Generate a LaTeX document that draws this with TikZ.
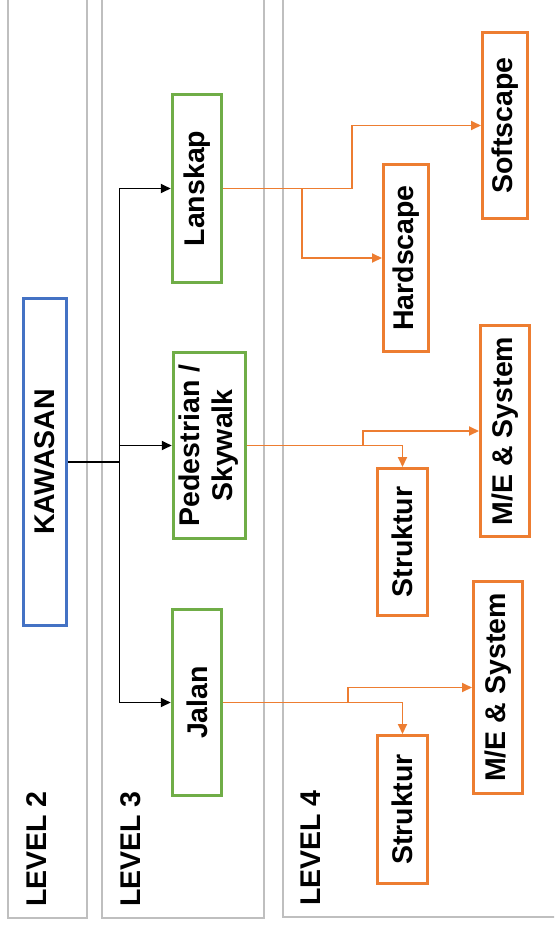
\documentclass[tikz,border=0pt]{standalone}
\usepackage{fontspec}
\setmainfont{Liberation Sans}
\usetikzlibrary{arrows.meta}
\definecolor{oorange}{HTML}{ED7D31}
\definecolor{ggreen}{HTML}{70AD47}
\definecolor{bblue}{HTML}{4472C4}
\definecolor{pgray}{HTML}{BFBFBF}
\tikzset{
  panel/.style={draw=pgray, line width=1.5pt},
  bx/.style={draw, line width=3pt, inner sep=0pt, fill=white, align=center},
  lvl/.style={inner sep=0pt, rotate=90},
  conn/.style={draw=black, line width=1.8pt},
  carrow/.style={conn, -{Triangle[length=10pt,width=9pt]}},
  oarrow/.style={draw=oorange, line width=1.9pt, -{Triangle[length=10pt,width=9pt]}},
}
\begin{document}
\begin{tikzpicture}[x=1pt,y=-1pt, font=\fontsize{28.5}{34}\selectfont\bfseries]
\useasboundingbox (0,0) rectangle (554,926);
\clip (0,0) rectangle (554,926);
% panels
\draw[panel] (8,-10) rectangle (87,918);
\draw[panel] (102,-10) rectangle (264,918);
\draw[panel] (283,-10) rectangle (570,917);
\node[lvl] (L2) at (37,849) {LEVEL 2};
\node[lvl] (L3) at (131,849) {LEVEL 3};
\node[lvl] (L4) at (311,848) {LEVEL 4};
% level 2
\node[bx, draw=bblue, minimum width=43pt, minimum height=327pt] (K) at (45,462) {\rotatebox{90}{KAWASAN}};
% level 3
\node[bx, draw=ggreen, minimum width=49.5pt, minimum height=188pt] (Lan) at (197,188.5) {\rotatebox{90}{Lanskap}};
\node[bx, draw=ggreen, minimum width=72.5pt, minimum height=186.5pt] (Ped) at (209.5,445.5) {\rotatebox{90}{\begin{tabular}{@{}c@{}}Pedestrian /\\[-1pt]Skywalk\end{tabular}}};
\node[bx, draw=ggreen, minimum width=49.5pt, minimum height=186.5pt] (Jal) at (197,702.5) {\rotatebox{90}{Jalan}};
% level 4
\node[bx, draw=oorange, minimum width=45pt, minimum height=186pt] (Soft) at (505,125.5) {\rotatebox{90}{Softscape}};
\node[bx, draw=oorange, minimum width=45pt, minimum height=187pt] (Hard) at (406,258) {\rotatebox{90}{Hardscape}};
\node[bx, draw=oorange, minimum width=49pt, minimum height=211pt] (ME1) at (505,431) {\rotatebox{90}{M/E \& System}};
\node[bx, draw=oorange, minimum width=50pt, minimum height=147pt] (St1) at (402.5,542) {\rotatebox{90}{Struktur}};
\node[bx, draw=oorange, minimum width=49pt, minimum height=212pt] (ME2) at (498,687.5) {\rotatebox{90}{M/E \& System}};
\node[bx, draw=oorange, minimum width=50pt, minimum height=148pt] (St2) at (402.5,809.5) {\rotatebox{90}{Struktur}};
% black connectors
\coordinate (bus) at (119.5,462);
\draw[conn] (K.east) -- (bus);
\draw[carrow] (bus) |- (Lan.west);
\draw[carrow] (bus) -- (bus |- Ped.west) -- (Ped.west);
\draw[carrow] (bus) |- (Jal.west);
% orange connectors
\coordinate (ls1) at (302,188.5);
\coordinate (ls2) at (352,188.5);
\draw[oarrow] (Lan.east) -- (ls2) |- (Soft.west);
\draw[oarrow] (ls1) |- (Hard.west);
\coordinate (ps) at (363,445.5);
\draw[oarrow] (Ped.east) -| (St1.north);
\draw[oarrow] (ps) |- (ME1.west);
\coordinate (js) at (348,702.5);
\draw[oarrow] (Jal.east) -| (St2.north);
\draw[oarrow] (js) |- (ME2.west);
\end{tikzpicture}
\end{document}
